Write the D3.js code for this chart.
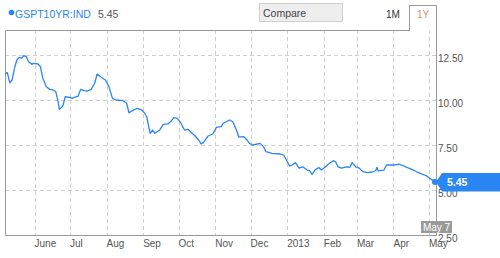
<!DOCTYPE html>
<html><head><meta charset="utf-8">
<script src="https://cdn.jsdelivr.net/npm/d3@7"></script>
<style>
body{margin:0;background:#fff;}
svg{display:block;font-family:"Liberation Sans",Arial,Helvetica,sans-serif;}
</style></head>
<body><svg id="c" width="500" height="258"></svg>
<script>
const symbol = "GSPT10YR:IND";
const lastValue = 5.45;
const lastDateLabel = "May 7";
const dates = ["2012-05-07","2012-05-09","2012-05-11","2012-05-13","2012-05-15","2012-05-17","2012-05-19","2012-05-21","2012-05-23","2012-05-25","2012-05-27","2012-05-30","2012-05-31","2012-06-04","2012-06-06","2012-06-08","2012-06-11","2012-06-14","2012-06-17","2012-06-19","2012-06-21","2012-06-22","2012-06-25","2012-06-27","2012-07-01","2012-07-03","2012-07-06","2012-07-08","2012-07-10","2012-07-13","2012-07-16","2012-07-19","2012-07-22","2012-07-24","2012-07-27","2012-07-31","2012-08-03","2012-08-06","2012-08-09","2012-08-15","2012-08-18","2012-08-20","2012-08-23","2012-08-27","2012-08-31","2012-09-02","2012-09-04","2012-09-06","2012-09-07","2012-09-09","2012-09-11","2012-09-15","2012-09-18","2012-09-22","2012-09-25","2012-09-27","2012-09-30","2012-10-03","2012-10-06","2012-10-09","2012-10-12","2012-10-15","2012-10-18","2012-10-20","2012-10-22","2012-10-26","2012-10-30","2012-11-02","2012-11-06","2012-11-08","2012-11-13","2012-11-16","2012-11-19","2012-11-21","2012-11-25","2012-11-28","2012-11-30","2012-12-03","2012-12-09","2012-12-12","2012-12-14","2012-12-19","2012-12-26","2012-12-29","2012-12-31","2013-01-03","2013-01-05","2013-01-08","2013-01-11","2013-01-14","2013-01-18","2013-01-20","2013-01-22","2013-01-25","2013-01-28","2013-01-30","2013-02-02","2013-02-05","2013-02-09","2013-02-11","2013-02-13","2013-02-16","2013-02-20","2013-02-23","2013-02-25","2013-02-26","2013-02-28","2013-03-03","2013-03-06","2013-03-10","2013-03-14","2013-03-17","2013-03-18","2013-03-19","2013-03-24","2013-03-26","2013-04-02","2013-04-06","2013-04-10","2013-04-14","2013-04-18","2013-04-22","2013-04-25","2013-04-29","2013-05-03","2013-05-07"];
const values = [11.45,11.52,10.96,11.11,11.76,12.22,12.37,12.32,12.46,12.41,12.13,11.98,12.04,12.0,11.85,11.21,10.74,10.59,10.56,10.46,9.91,9.48,9.67,10.18,10.15,10.09,10.18,10.22,10.59,10.52,10.5,10.59,10.93,11.44,11.29,11.11,10.74,10.09,10.0,9.96,9.82,9.29,9.41,9.54,9.44,9.29,9.07,8.43,8.15,8.33,8.15,8.33,8.65,8.67,8.85,9.02,8.98,8.71,8.33,8.37,8.18,8.0,7.78,7.56,7.63,8.0,8.11,8.48,8.52,8.71,8.89,8.79,8.33,7.94,7.97,7.78,7.59,7.5,7.59,7.41,7.13,7.04,7.0,6.94,6.71,6.33,6.39,6.52,6.21,6.29,6.11,6.07,5.87,6.15,6.24,6.11,6.26,6.44,6.63,6.57,6.29,6.21,6.29,6.26,6.52,6.44,6.29,6.21,6.02,5.96,6.0,6.07,6.26,6.06,6.11,6.39,6.39,6.43,6.33,6.21,6.11,5.96,5.89,5.78,5.59,5.45];
const monthTicks = ["2012-06-01","2012-07-01","2012-08-01","2012-09-01","2012-10-01","2012-11-01","2012-12-01","2013-01-01","2013-02-01","2013-03-01","2013-04-01","2013-05-01"];
const monthLabels = ["June","Jul","Aug","Sep","Oct","Nov","Dec","2013","Feb","Mar","Apr","May"];
const yTicks = [2.5,5,7.5,10,12.5];
const yTickLabels = ["2.50","5.00","7.50","10.00","12.50"];

const parse = d3.utcParse("%Y-%m-%d");
const data = dates.map((d,i)=>({date:parse(d), value:values[i]}));
const L=5, R=436, T=30, B=235;
const x = d3.scaleUtc().domain([parse("2012-05-07"), parse("2013-05-07")]).range([L,R]);
const y = d3.scaleLinear().domain([2.5,12.5]).range([B,55]);
const svg = d3.select("#c");
const blue = "#2a86f3";

// grid
const gGrid = svg.append("g").attr("stroke","#d0d0d0").attr("stroke-dasharray","4,3").attr("stroke-width",1);
gGrid.selectAll("line.v").data(monthTicks).join("line")
  .attr("x1",d=>Math.round(x(parse(d)))+0.5).attr("x2",d=>Math.round(x(parse(d)))+0.5)
  .attr("y1",T).attr("y2",B);
gGrid.selectAll("line.h").data(yTicks.filter(v=>v>2.5)).join("line")
  .attr("x1",L).attr("x2",R).attr("y1",d=>Math.round(y(d))+0.5).attr("y2",d=>Math.round(y(d))+0.5);

// frame
svg.append("path").attr("fill","none").attr("stroke","#999").attr("stroke-width",1)
  .attr("d",`M409.5,${T+0.5} L${L+0.5},${T+0.5} L${L+0.5},${B+0.5} L${R+0.5},${B+0.5} L${R+0.5},5.5 L409.5,5.5 L409.5,${T+0.5}`);
svg.append("rect").attr("x",410).attr("y",6).attr("width",26).attr("height",25).attr("fill","#fff");
svg.append("line").attr("x1",409.5).attr("x2",409.5).attr("y1",5.5).attr("y2",T+0.5).attr("stroke","#999");
svg.append("line").attr("x1",409.5).attr("x2",R+0.5).attr("y1",5.5).attr("y2",5.5).attr("stroke","#999");

// x labels
svg.append("g").selectAll("text").data(monthTicks).join("text")
  .attr("x",d=>x(parse(d))).attr("y",247).attr("font-size",10).attr("fill","#555")
  .text((d,i)=>monthLabels[i]);

// y labels
svg.append("g").selectAll("text").data(yTicks).join("text")
  .attr("x",438).attr("y",d=>y(d)+7).attr("font-size",10).attr("fill","#555")
  .text((d,i)=>yTickLabels[i]);

// line
const line = d3.line().x(d=>x(d.date)).y(d=>y(d.value));
svg.append("path").datum(data).attr("fill","none").attr("stroke",blue).attr("stroke-width",1.3)
  .attr("stroke-linejoin","round").attr("d",line);

// header
svg.append("circle").attr("cx",11.5).attr("cy",12.5).attr("r",2.8).attr("fill",blue);
svg.append("text").attr("x",15).attr("y",17.5).attr("font-size",10.5).attr("fill",blue).text(symbol);
svg.append("text").attr("x",98).attr("y",17.5).attr("font-size",10.5).attr("fill","#555").text(lastValue.toFixed(2));
svg.append("rect").attr("x",259.5).attr("y",3.5).attr("width",83).attr("height",18).attr("fill","#eee").attr("stroke","#d0d0d0");
svg.append("text").attr("x",263).attr("y",16.5).attr("font-size",10.5).attr("fill","#444").text("Compare");
svg.append("text").attr("x",393).attr("y",17.5).attr("font-size",10).attr("text-anchor","middle").attr("fill","#333").text("1M");
svg.append("text").attr("x",423).attr("y",17.5).attr("font-size",10).attr("text-anchor","middle").attr("fill","#c9976a").text("1Y");

// last value marker
const last = data[data.length-1];
const lx = x(last.date), ly = y(last.value);
svg.append("circle").attr("cx",lx-1).attr("cy",ly).attr("r",3).attr("fill",blue);
svg.append("path").attr("fill",blue)
  .attr("d",`M${lx},${ly} L${lx+6},${ly-9} L500,${ly-9} L500,${ly+9.5} L${lx+6},${ly+9.5} Z`);
svg.append("text").attr("x",447).attr("y",ly+4.5).attr("font-size",10.5).attr("font-weight","bold").attr("fill","#fff").text(last.value.toFixed(2));

// date tag
svg.append("rect").attr("x",421).attr("y",221).attr("width",31).attr("height",12).attr("fill","#9a9a9a");
svg.append("text").attr("x",436.5).attr("y",230.5).attr("font-size",10).attr("text-anchor","middle").attr("fill","#fff").text(lastDateLabel);
</script></body></html>
